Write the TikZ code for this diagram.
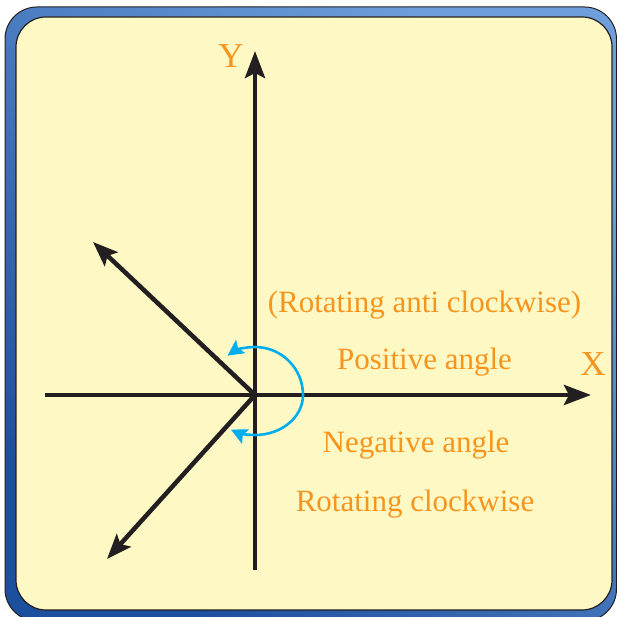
\documentclass[tikz,border=0pt]{standalone}
\usepackage{fontspec}
\setmainfont{Liberation Serif}
\usetikzlibrary{arrows.meta}
\definecolor{frameblue}{HTML}{1D4F9F}
\definecolor{framelight}{HTML}{6E9FDA}
\definecolor{paper}{HTML}{FEF9C4}
\definecolor{label}{HTML}{F7941D}
\definecolor{turn}{HTML}{00AEEF}
\definecolor{ink}{HTML}{231F20}
\tikzset{axis/.style={draw=ink,line width=4.5pt,-{Stealth[length=27pt,width=20pt,inset=5pt]}},ray/.style={draw=ink,line width=4.5pt,-{Stealth[length=25pt,width=19pt,inset=5pt]}},turnarrow/.style={draw=turn,line width=2.6pt,-{Stealth[length=16pt,width=16pt,inset=3pt]}},caption/.style={text=label,font=\fontsize{31}{34}\selectfont,anchor=base,inner sep=0pt},axislabel/.style={text=label,font=\fontsize{35}{38}\selectfont,inner sep=0pt}}

\begin{document}
\begin{tikzpicture}[x=1pt,y=1pt]
\useasboundingbox (0,0) rectangle (617,617);
\shade[draw=ink,line width=1pt,rounded corners=32pt,bottom color=frameblue,top color=framelight,shading angle=-40] (5,-4) rectangle (616.5,610);
\draw[ink,fill=paper,line width=1.2pt,rounded corners=30pt] (16,7) rectangle (612,600);
\coordinate (O) at (255,222);
\coordinate (yb) at (255,47);
\coordinate (yt) at (255,566);
\coordinate (xl) at (45,222);
\coordinate (xr) at (591,222);
\coordinate (up) at (93,375);
\coordinate (dn) at (107,58);
\draw[axis] (yb)--(yt);
\draw[axis] (xl)--(xr);
\draw[ray] (O)--(up);
\draw[ray] (O)--(dn);
\draw[turnarrow] ([shift={(0:48)}]O) arc[start angle=0,end angle=125,radius=48];
\draw[turnarrow] ([shift={(0:48)}]O) arc[start angle=0,end angle=-120,x radius=48,y radius=40];
\node[axislabel] (ylab) at (231,561) {Y};
\node[axislabel] (xlab) at (593,253) {X};
\node[caption] (anti) at (424.5,304) {(Rotating anti clockwise)};
\node[caption] (pos) at (424.5,247) {Positive angle};
\node[caption] (neg) at (416,164) {Negative angle};
\node[caption] (cw) at (415,105) {Rotating clockwise};
\end{tikzpicture}
\end{document}
